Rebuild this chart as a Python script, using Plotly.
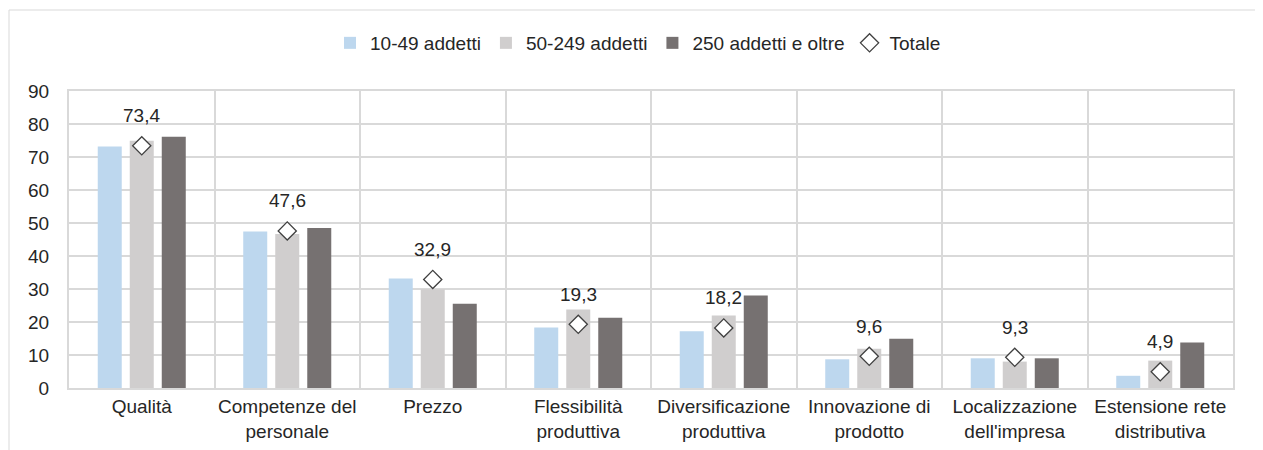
import plotly.graph_objects as go

categories = ["Qualità", "Competenze del<br>personale", "Prezzo", "Flessibilità<br>produttiva",
              "Diversificazione<br>produttiva", "Innovazione di<br>prodotto",
              "Localizzazione<br>dell'impresa", "Estensione rete<br>distributiva"]
small = [73.2, 47.4, 33.2, 18.3, 17.2, 8.7, 9.0, 3.7]
medium = [74.9, 46.7, 29.9, 23.8, 22.0, 11.9, 8.0, 8.3]
large = [76.1, 48.5, 25.5, 21.3, 28.0, 14.9, 9.0, 13.8]
totale = [73.4, 47.6, 32.9, 19.3, 18.2, 9.6, 9.3, 4.9]
series_names = ["10-49 addetti", "50-249 addetti", "250 addetti e oltre", "Totale"]
y_ticks = [0, 10, 20, 30, 40, 50, 60, 70, 80, 90]

colors = ["#BDD7EE", "#D0CECE", "#767171"]
FONT = "Liberation Sans, Arial, sans-serif"
TXT = "#262626"

fig = go.Figure()
for name, vals, col in zip(series_names[:3], [small, medium, large], colors):
    fig.add_trace(go.Bar(x=categories, y=vals, name=name, marker=dict(color=col, line=dict(width=0))))

fig.add_trace(go.Scatter(x=categories, y=totale, name=series_names[3], mode="markers",
                         marker=dict(symbol="diamond", size=14, color="white",
                                     line=dict(color="#404040", width=1.3))))

for c, v in zip(categories, totale):
    fig.add_annotation(x=c, y=v, text=f"{v:.1f}".replace(".", ","), showarrow=False,
                       yshift=30, yanchor="middle", font=dict(size=19, color=TXT, family=FONT))

# page body has an 8px margin: work in page pixels, then subtract it
OFF = 8
W, H = 1263 - OFF, 450 - OFF
px_left, px_right, px_top, px_bottom = 69, 1233, 91, 388
L = px_left - OFF
T = px_top - OFF
R = W - (px_right - OFF)
B = H - (px_bottom - OFF)
pw, ph = W - L - R, H - T - B

def xp(page_x):
    return (page_x - px_left) / pw

def yp(page_y):
    return (px_bottom - page_y) / ph

fig.add_shape(type="rect", xref="paper", yref="paper",
              x0=xp(9), x1=xp(1275), y0=yp(470), y1=yp(10),
              line=dict(color="#D9D9D9", width=1), fillcolor="rgba(0,0,0,0)", layer="below")

fig.update_layout(
    width=W, height=H,
    margin=dict(l=L, r=R, t=T, b=B, pad=0),
    barmode="group", bargap=0.34, bargroupgap=0.25,
    plot_bgcolor="white", paper_bgcolor="white",
    font=dict(family=FONT, size=19, color=TXT),
    legend=dict(orientation="h", x=xp(638), xanchor="center", y=yp(43), yanchor="middle",
                font=dict(size=19, color=TXT), traceorder="normal"),
    xaxis=dict(tickson="boundaries", showgrid=True, gridcolor="#D9D9D9", gridwidth=2,
               showline=True, linecolor="#D9D9D9", linewidth=2, mirror=True, ticks="",
               tickangle=0, automargin=False, tickfont=dict(size=19, color=TXT)),
    yaxis=dict(range=[0, 90], tickvals=y_ticks, showgrid=True, gridcolor="#D9D9D9", gridwidth=2,
               showline=True, linecolor="#D9D9D9", linewidth=2, mirror=True, ticks="",
               automargin=False, ticklabelstandoff=14, zeroline=False, tickfont=dict(size=19, color=TXT)),
)

fig.write_html("out.html")
